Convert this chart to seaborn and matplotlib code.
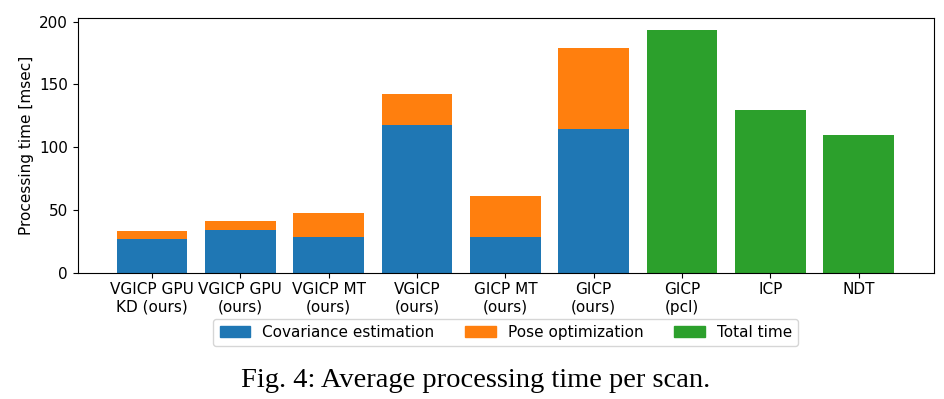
import numpy as np
import pandas as pd
import seaborn as sns
from matplotlib import pyplot as plt
from matplotlib.patches import Patch


methods = ['VGICP GPU\nKD (ours)', 'VGICP GPU\n(ours)', 'VGICP MT\n(ours)', 'VGICP\n(ours)',
           'GICP MT\n(ours)', 'GICP\n(ours)', 'GICP\n(pcl)', 'ICP', 'NDT']
covariance = [26.8, 34.0, 28.1, 117.7, 28.4, 114.2, 0, 0, 0]
pose = [6.7, 7.2, 19.5, 24.9, 32.4, 65.1, 0, 0, 0]
total = [0, 0, 0, 0, 0, 0, 193.6, 129.6, 109.7]

blue, orange, green = '#1f77b4', '#ff7f0e', '#2ca02c'

df = pd.DataFrame({
    'method': methods,
    'cov': covariance,
    'stack': np.array(covariance) + np.array(pose),
    'total': total,
})

plt.rcParams['font.size'] = 11

fig = plt.figure(figsize=(9.45, 3.99), dpi=100)
ax = fig.add_axes([0.0822, 0.317, 0.906, 0.639])

sns.barplot(data=df, x='method', y='stack', order=methods, color=orange,
            saturation=1, linewidth=0, width=0.8, ax=ax)
sns.barplot(data=df, x='method', y='cov', order=methods, color=blue,
            saturation=1, linewidth=0, width=0.8, ax=ax)
sns.barplot(data=df, x='method', y='total', order=methods, color=green,
            saturation=1, linewidth=0, width=0.8, ax=ax)

ax.set_xlim(-0.84, 8.85)
ax.set_ylim(0, 203.4)
ax.set_yticks([0, 50, 100, 150, 200])
ax.set_xlabel('')
ax.set_ylabel('Processing time [msec]')

handles = [Patch(color=blue, label='Covariance estimation'),
           Patch(color=orange, label='Pose optimization'),
           Patch(color=green, label='Total time')]
ax.legend(handles=handles, loc='upper center', bbox_to_anchor=(0.5, -0.152),
          ncol=3, columnspacing=2.0)

fig.text(0.503, 0.047, 'Fig. 4: Average processing time per scan.',
         ha='center', va='center', fontsize=20.5, family='Liberation Serif')

fig.savefig('out.png', dpi=100)
